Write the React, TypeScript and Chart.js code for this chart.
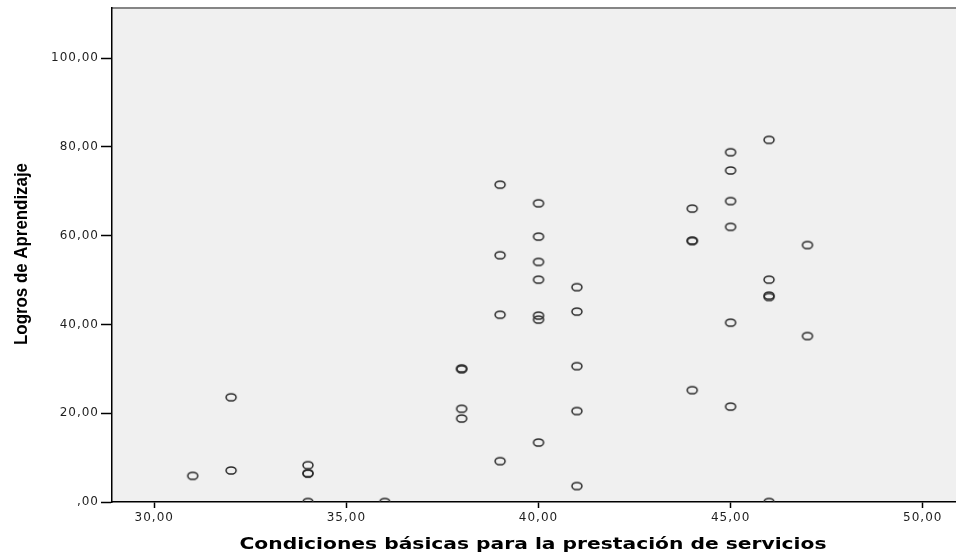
import React, { useEffect, useRef } from "react";
import { Chart, registerables } from "chart.js";

Chart.register(...registerables);

const xTitle = "Condiciones básicas para la prestación de servicios";
const yTitle = "Logros de Aprendizaje";

const condiciones: number[] = [
  31, 32, 32, 34, 34, 34, 34, 36, 38, 38, 38, 38, 39, 39, 39, 39,
  40, 40, 40, 40, 40, 40, 40, 41, 41, 41, 41, 41, 44, 44, 44, 44,
  45, 45, 45, 45, 45, 45, 46, 46, 46, 46, 46, 47, 47,
];
const logros: number[] = [
  5.9, 23.6, 7.1, 8.3, 6.5, 6.4, 0, 0, 30.1, 29.9, 21.0, 18.8, 71.5, 55.6, 42.2, 9.2,
  67.3, 59.8, 54.1, 50.1, 42.0, 41.1, 13.4, 48.4, 42.9, 30.6, 20.5, 3.6, 66.1, 58.9, 58.8, 25.2,
  78.8, 74.7, 67.8, 62.0, 40.4, 21.5, 81.6, 50.1, 46.5, 46.2, 0, 57.9, 37.4,
];

const fmt = (v: number) => (v === 0 ? ",00" : v.toFixed(2).replace(".", ","));

function makeMarker(): HTMLCanvasElement {
  const c = document.createElement("canvas");
  c.width = 14;
  c.height = 11;
  const g = c.getContext("2d")!;
  g.strokeStyle = "#2a2a2a";
  g.lineWidth = 1.5;
  g.beginPath();
  g.ellipse(7, 5.5, 5.0, 3.6, 0, 0, Math.PI * 2);
  g.stroke();
  return c;
}

const framePlugin = {
  id: "frame",
  beforeDraw(chart: any) {
    const { ctx, chartArea } = chart;
    const { left, top, right, bottom } = chartArea;
    ctx.save();
    ctx.fillStyle = "#F0F0F0";
    ctx.fillRect(left, top, right - left, bottom - top);
    ctx.strokeStyle = "#858585";
    ctx.lineWidth = 2;
    ctx.beginPath();
    ctx.moveTo(left, top);
    ctx.lineTo(right, top);
    ctx.stroke();
    ctx.restore();
    ctx.letterSpacing = "1px";
  },
  afterDraw(chart: any) {
    const { ctx } = chart;
    ctx.letterSpacing = "0px";
    ctx.save();
    ctx.fillStyle = "#000";
    ctx.textAlign = "center";
    ctx.textBaseline = "middle";
    ctx.font = "bold 15px 'DejaVu Sans'";
    const wx = ctx.measureText(xTitle).width;
    const sx = 587 / wx;
    ctx.save();
    ctx.translate(533, 545);
    ctx.scale(sx, 1);
    ctx.fillText(xTitle, 0, 0);
    ctx.restore();
    ctx.font = "bold 18px 'Liberation Sans Narrow', 'Liberation Sans', sans-serif";
    const wy = ctx.measureText(yTitle).width;
    const sy = 182 / wy;
    ctx.save();
    ctx.translate(22, 254);
    ctx.rotate(-Math.PI / 2);
    ctx.scale(sy, 1);
    ctx.fillText(yTitle, 0, 0);
    ctx.restore();
    ctx.restore();
  },
};

export default function App() {
  const ref = useRef<HTMLCanvasElement | null>(null);
  useEffect(() => {
    if (!ref.current) return;
    const marker = makeMarker();
    const points = condiciones.map((x, i) => ({ x, y: logros[i] }));
    const tickFont = { family: "'DejaVu Sans', sans-serif", size: 12 };
    const chart = new Chart(ref.current, {
      type: "scatter",
      data: {
        datasets: [
          {
            data: points,
            pointStyle: marker as any,
            pointRadius: 5,
            pointHoverRadius: 5,
            clip: 0,
          } as any,
        ],
      },
      plugins: [framePlugin],
      options: {
        animation: false,
        responsive: false,
        maintainAspectRatio: false,
        layout: { padding: { top: 8, right: 0, left: 0, bottom: 0 } },
        plugins: { legend: { display: false }, tooltip: { enabled: false } },
        scales: {
          x: {
            type: "linear",
            min: 28.9,
            max: 51.23,
            afterFit: (s: any) => {
              s.height = 54;
              s.paddingLeft = 0;
              s.paddingRight = 0;
            },
            ticks: {
              stepSize: 5,
              includeBounds: false,
              callback: (v: any) => fmt(Number(v)),
              font: tickFont,
              color: "#1e1e1e",
              padding: 3,
              maxRotation: 0,
            },
            grid: {
              drawOnChartArea: false,
              drawTicks: true,
              tickLength: 6,
              tickColor: "#000",
              tickWidth: 1.5,
            },
            border: { color: "#000", width: 1.5 },
          },
          y: {
            type: "linear",
            min: 0,
            max: 111.3,
            afterFit: (s: any) => {
              s.width = 112;
              s.paddingTop = 0;
              s.paddingBottom = 0;
            },
            ticks: {
              stepSize: 20,
              includeBounds: false,
              callback: (v: any) => fmt(Number(v)),
              font: tickFont,
              color: "#1e1e1e",
              padding: 2,
            },
            grid: {
              drawOnChartArea: false,
              drawTicks: true,
              tickLength: 11,
              tickColor: "#000",
              tickWidth: 1.5,
            },
            border: { color: "#000", width: 1.5 },
          },
        },
      },
    });
    return () => chart.destroy();
  }, []);
  return (
    <div style={{ position: "fixed", left: 0, top: 0, width: 956, height: 556, background: "#fff", overflow: "hidden" }}>
      <canvas ref={ref} width={976} height={556} style={{ width: 976, height: 556, display: "block" }} />
    </div>
  );
}
